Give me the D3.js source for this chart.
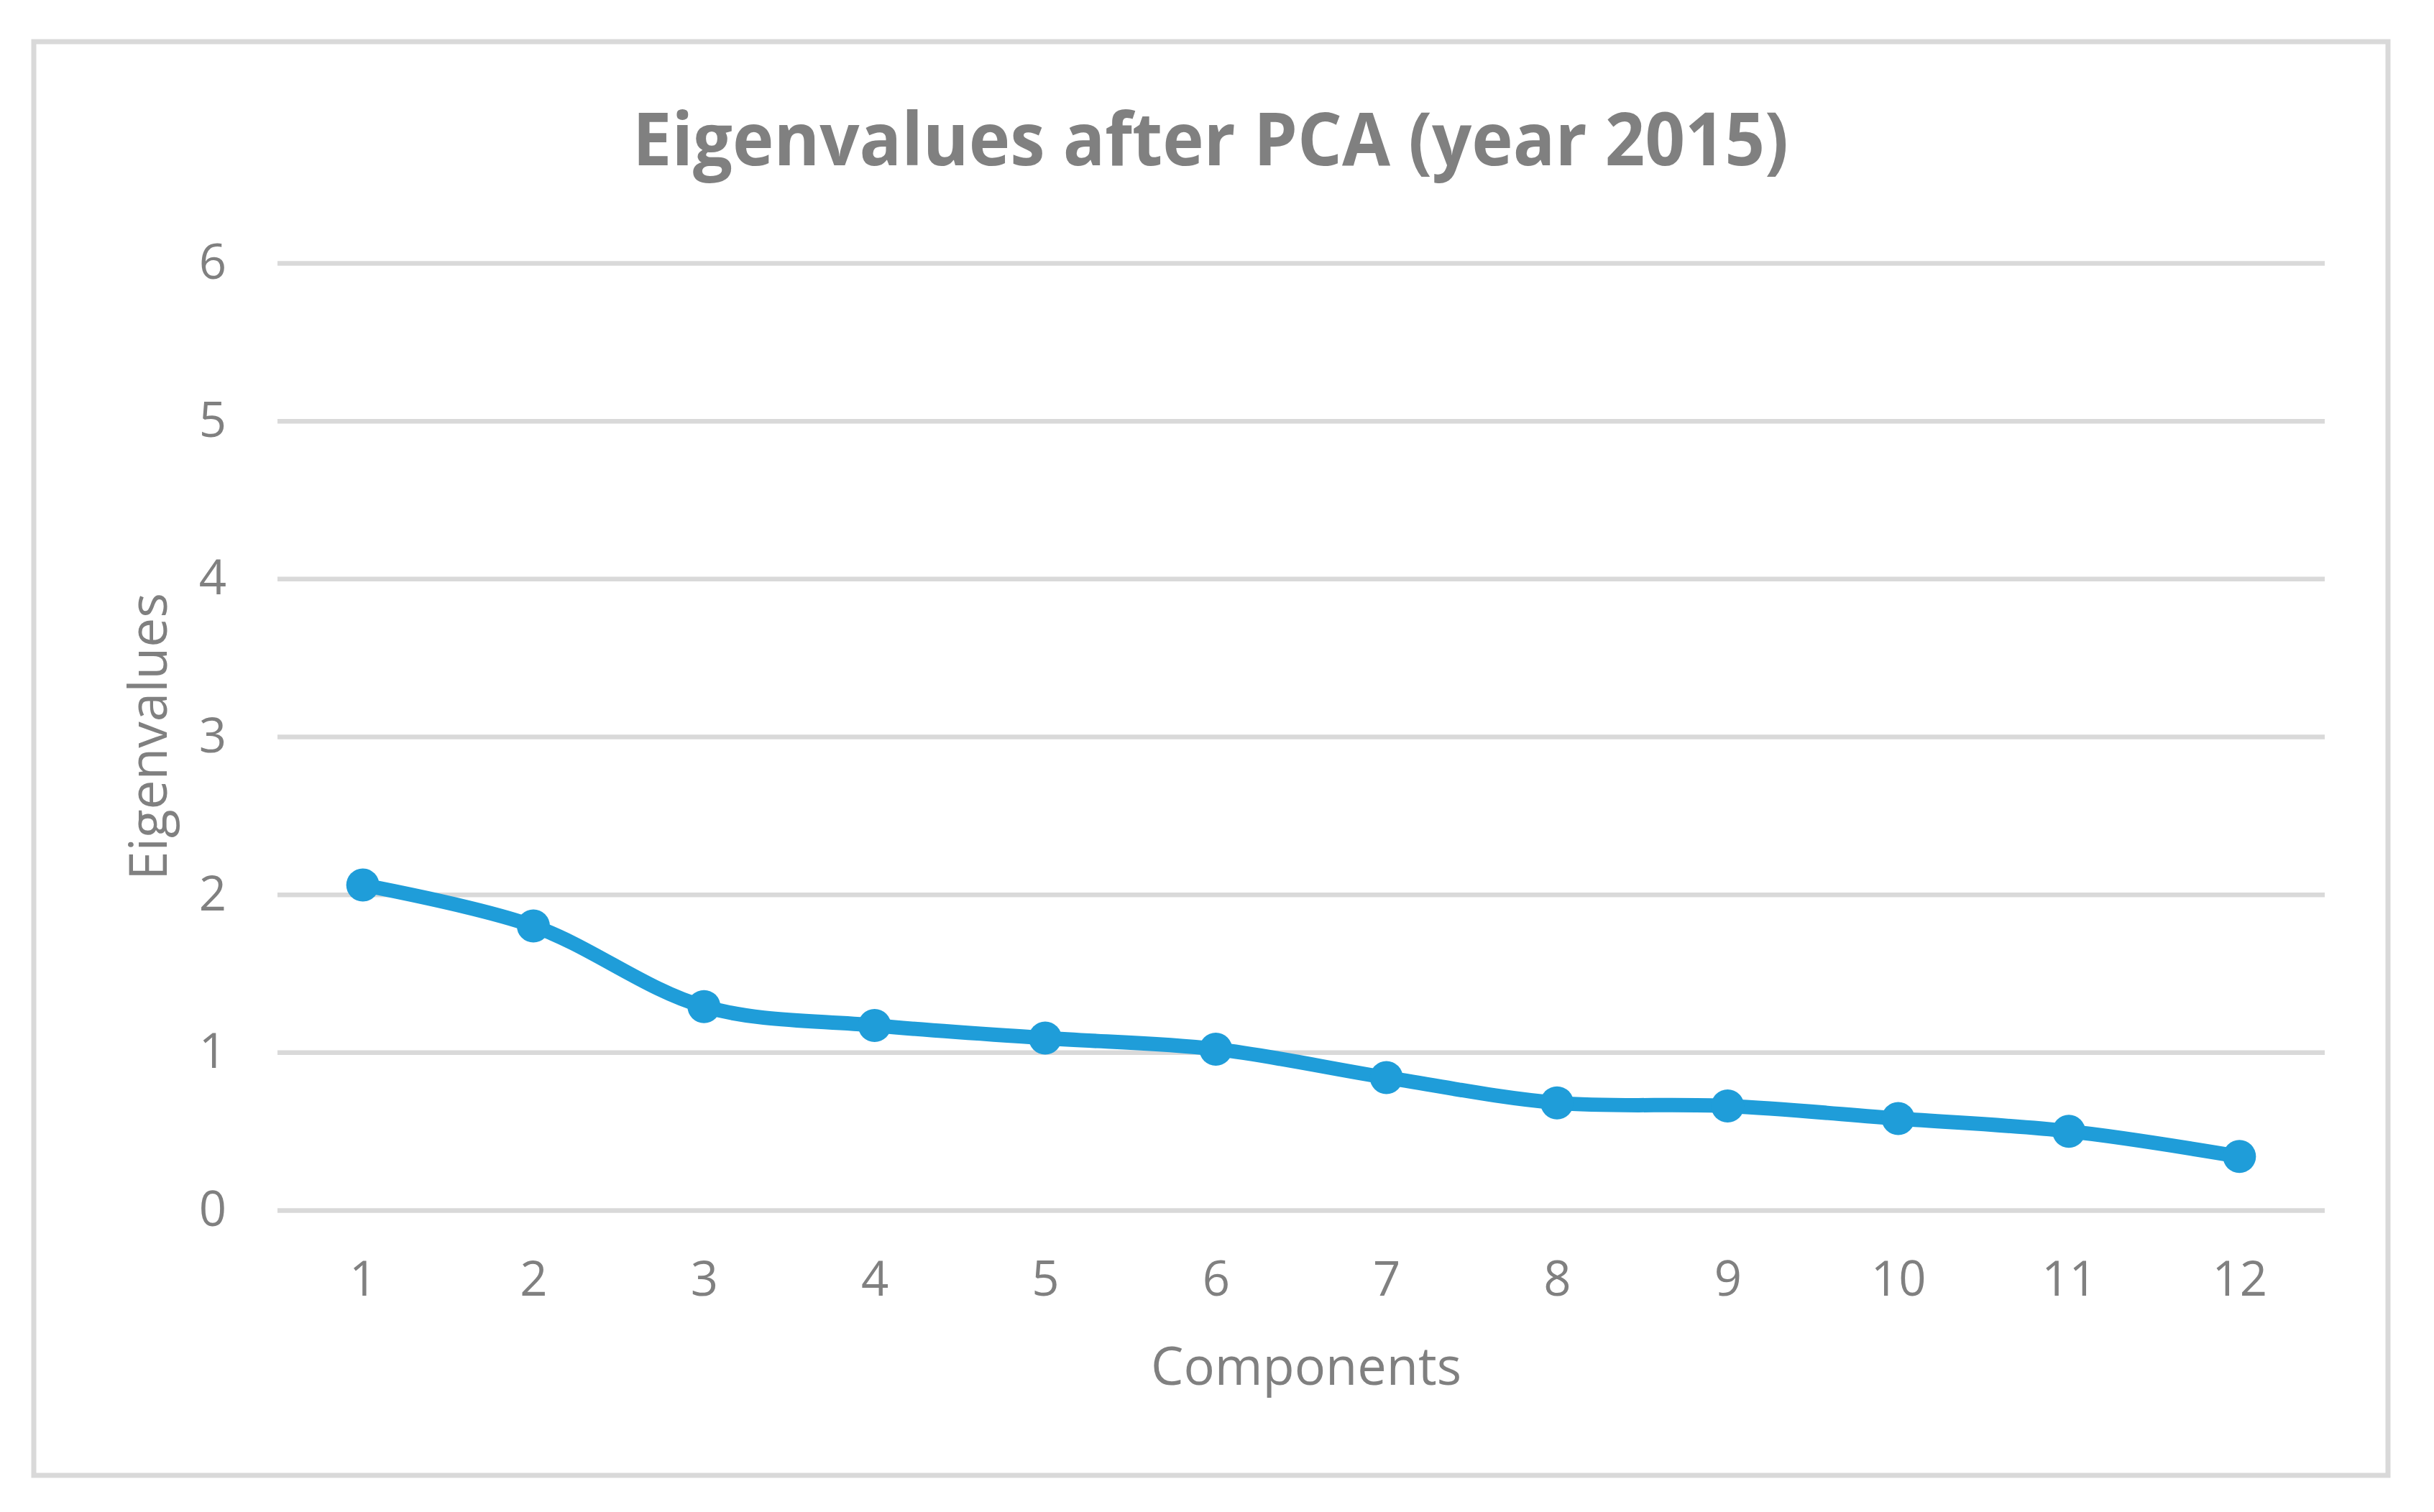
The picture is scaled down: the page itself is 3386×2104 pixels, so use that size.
<!DOCTYPE html>
<html>
<head>
<meta charset="utf-8">
<script src="https://cdn.jsdelivr.net/npm/d3@7"></script>
<style>
  body { margin: 0; background: #fff; }
  text { font-family: "Open Sans", sans-serif; fill: #808080; }
</style>
</head>
<body>
<div id="chart"></div>
<script>
// chart data
var components = [1, 2, 3, 4, 5, 6, 7, 8, 9, 10, 11, 12];
var eigenvalues = [2.06, 1.80, 1.29, 1.17, 1.09, 1.02, 0.84, 0.68, 0.66, 0.58, 0.50, 0.34];
var yTicks = [0, 1, 2, 3, 4, 5, 6];

var titleText = "Eigenvalues after PCA (year 2015)";
var xTitle = "Components";
var yTitle = "Eigenvalues";

// canvas
var svgWidth = 3386;
var svgHeight = 2104;

var margin = { top: 366, right: 152, bottom: 420, left: 386 };
var width = svgWidth - margin.left - margin.right;
var height = svgHeight - margin.top - margin.bottom;

var svg = d3.select("#chart")
  .append("svg")
  .attr("width", svgWidth)
  .attr("height", svgHeight);

// outer frame
svg.append("rect")
  .attr("x", 47)
  .attr("y", 58)
  .attr("width", 3322 - 47)
  .attr("height", 2053 - 58)
  .attr("fill", "#fff")
  .attr("stroke", "#d9d9d9")
  .attr("stroke-width", 7);

var chartGroup = svg.append("g")
  .attr("transform", `translate(${margin.left}, ${margin.top})`);

// scales
var xScale = d3.scalePoint()
  .domain(components)
  .range([0, width])
  .padding(0.5);

var yScale = d3.scaleLinear()
  .domain([0, 6])
  .range([height, 0]);

// y axis with gridlines
var leftAxis = d3.axisLeft(yScale)
  .tickValues(yTicks)
  .tickSize(-width)
  .tickPadding(71)
  .tickFormat(d3.format("d"));

var yAxisG = chartGroup.append("g").call(leftAxis);
yAxisG.select(".domain").remove();
yAxisG.selectAll(".tick line")
  .attr("stroke", "#d9d9d9")
  .attr("stroke-width", 6.5);
yAxisG.selectAll(".tick text")
  .attr("font-size", 67)
  .attr("font-family", "Open Sans")
  .attr("fill", "#808080");

// x axis
var bottomAxis = d3.axisBottom(xScale)
  .tickSize(0)
  .tickPadding(71);

var xAxisG = chartGroup.append("g")
  .attr("transform", `translate(0, ${height})`)
  .call(bottomAxis);
xAxisG.select(".domain").remove();
xAxisG.selectAll(".tick text")
  .attr("font-size", 67)
  .attr("font-family", "Open Sans")
  .attr("fill", "#808080");

// line
var line = d3.line()
  .x((d, i) => xScale(components[i]))
  .y(d => yScale(d))
  .curve(d3.curveCatmullRom.alpha(0.5));

chartGroup.append("path")
  .datum(eigenvalues)
  .attr("d", line)
  .attr("fill", "none")
  .attr("stroke", "#1f9dd9")
  .attr("stroke-width", 20)
  .attr("stroke-linejoin", "round");

// markers
chartGroup.selectAll("circle")
  .data(eigenvalues)
  .enter()
  .append("circle")
  .attr("cx", (d, i) => xScale(components[i]))
  .attr("cy", d => yScale(d))
  .attr("r", 23)
  .attr("fill", "#1f9dd9");

// title
svg.append("text")
  .attr("x", 1684)
  .attr("y", 230)
  .attr("text-anchor", "middle")
  .attr("font-size", 102)
  .attr("font-weight", "bold")
  .attr("textLength", 1608)
  .attr("lengthAdjust", "spacingAndGlyphs")
  .attr("fill", "#7f7f7f")
  .text(titleText);

// x axis title
svg.append("text")
  .attr("x", 1817)
  .attr("y", 1927)
  .attr("text-anchor", "middle")
  .attr("font-size", 74)
  .attr("textLength", 432)
  .attr("lengthAdjust", "spacingAndGlyphs")
  .text(xTitle);

// y axis title
svg.append("text")
  .attr("transform", "translate(232, 1025) rotate(-90)")
  .attr("text-anchor", "middle")
  .attr("font-size", 74)
  .attr("textLength", 400)
  .attr("lengthAdjust", "spacingAndGlyphs")
  .text(yTitle);
</script>
</body>
</html>
